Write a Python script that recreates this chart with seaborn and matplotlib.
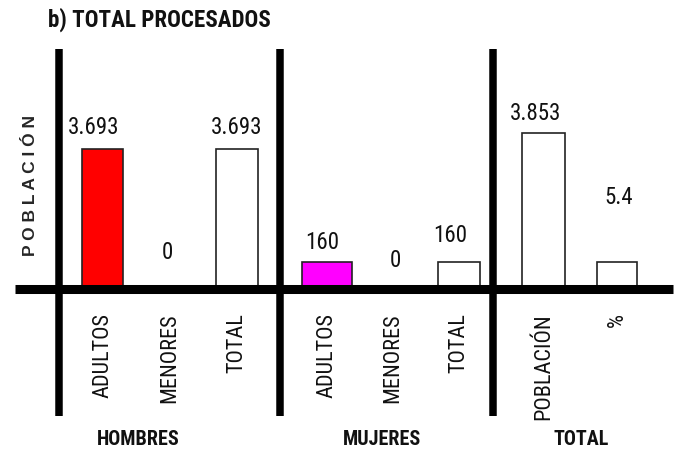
import matplotlib
matplotlib.use("Agg")
import matplotlib.pyplot as plt
from matplotlib.lines import Line2D
import seaborn as sns
import pandas as pd

# datos
grupos = ["HOMBRES", "MUJERES", "TOTAL"]
hombres_cat = ["ADULTOS", "MENORES", "TOTAL"]
hombres_val = [3693, 0, 3693]
mujeres_cat = ["ADULTOS", "MENORES", "TOTAL"]
mujeres_val = [160, 0, 160]
total_cat = ["POBLACIÓN", "%"]
total_val = [3853, 5.4]
titulo = "b) TOTAL PROCESADOS"
eje_y = "P O B L A C I Ó N"

sns.set_theme(style="white")
plt.rcParams["font.family"] = ["Roboto Condensed", "DejaVu Sans"]

W, H = 682, 452
BASE, TOP = 290, 50


def fx(px):
    return px / W


def fy(py):
    return 1 - py / H


def fmt(v):
    if float(v).is_integer():
        return f"{v:,.0f}".replace(",", ".")
    return f"{v}"


def panel(ax, cats, vals, colors, order, ytop, xlim, widths, offs):
    df = pd.DataFrame({"cat": cats, "val": vals})
    sns.barplot(data=df, x="cat", y="val", hue="cat", order=order, hue_order=cats,
                palette=colors, saturation=1, edgecolor="#222222", linewidth=1.2,
                legend=False, ax=ax)
    for p, w in zip(ax.patches, widths):
        c = p.get_x() + p.get_width() / 2
        p.set_width(w)
        p.set_x(c - w / 2)
    for c, v, (dx, dy) in zip(cats, vals, offs):
        ax.annotate(fmt(v), xy=(order.index(c), v), xytext=(dx, dy),
                    textcoords="offset points", ha="center", va="center",
                    fontsize=16.5, color="#111111")
    ax.set_ylim(0, ytop)
    ax.set_xlim(*xlim)
    ax.set_yticks([])
    ax.set_xlabel("")
    ax.set_ylabel("")
    for s in ax.spines.values():
        s.set_visible(False)
    ax.patch.set_alpha(0)


fig = plt.figure(figsize=(W / 100, H / 100), dpi=100)
ph = (BASE - TOP) / H

ax1 = fig.add_axes([fx(59), fy(BASE), (280 - 59) / W, ph])
panel(ax1, hombres_cat, hombres_val, ["#ff0000", "white", "white"], hombres_cat,
      6331, (-0.647, 2.639), [0.61, 0.61, 0.62], [(-6.5, 16), (-1.5, 27), (0, 16)])

ax2 = fig.add_axes([fx(280), fy(BASE), (493 - 280) / W, ph])
panel(ax2, mujeres_cat, mujeres_val, ["#ff00ff", "white", "white"], mujeres_cat,
      1422, (-0.712, 2.515), [0.76, 0.66, 0.64], [(-3.5, 15), (2, 21.5), (-6.5, 20)])

ax3 = fig.add_axes([fx(493), fy(BASE), (682 - 493) / W, ph])
ax3b = ax3.twinx()
panel(ax3, total_cat[:1], total_val[:1], ["white"], total_cat,
      5928, (-0.687, 1.884), [0.585], [(-6, 15)])
panel(ax3b, total_cat[1:], total_val[1:], ["white"], total_cat,
      48, (-0.687, 1.884), [0.545], [(1, 47.5)])

for ax in (ax1, ax2, ax3):
    ax.tick_params(axis="x", length=0, pad=16.5, labelrotation=90, labelsize=16,
                   labelcolor="#111111")
ax3b.xaxis.set_visible(False)
ax3b.set_yticks([])

# marco de lineas gruesas
frame = fig.add_axes([0, 0, 1, 1], zorder=10)
frame.set_xlim(0, W)
frame.set_ylim(H, 0)
frame.axis("off")
frame.patch.set_alpha(0)
frame.add_line(Line2D([15, 673], [BASE, BASE], lw=6.5, color="black", solid_capstyle="butt"))
for xv in (59, 280, 493):
    frame.add_line(Line2D([xv, xv], [TOP, 417], lw=5.4, color="black", solid_capstyle="butt"))

fig.text(fx(48), fy(20), titulo, ha="left", va="center", fontsize=16.6,
         fontweight="bold", color="#111111")
fig.text(fx(31), fy(185), eje_y, rotation=90, ha="center", va="center",
         fontsize=12.5, fontweight="bold", family=["Liberation Sans", "DejaVu Sans"])
for g, xc in zip(grupos, (138, 382, 581)):
    fig.text(fx(xc), fy(440), g, ha="center", va="center", fontsize=14.5,
             fontweight="bold", color="#111111")

fig.savefig("out.png", dpi=100)
